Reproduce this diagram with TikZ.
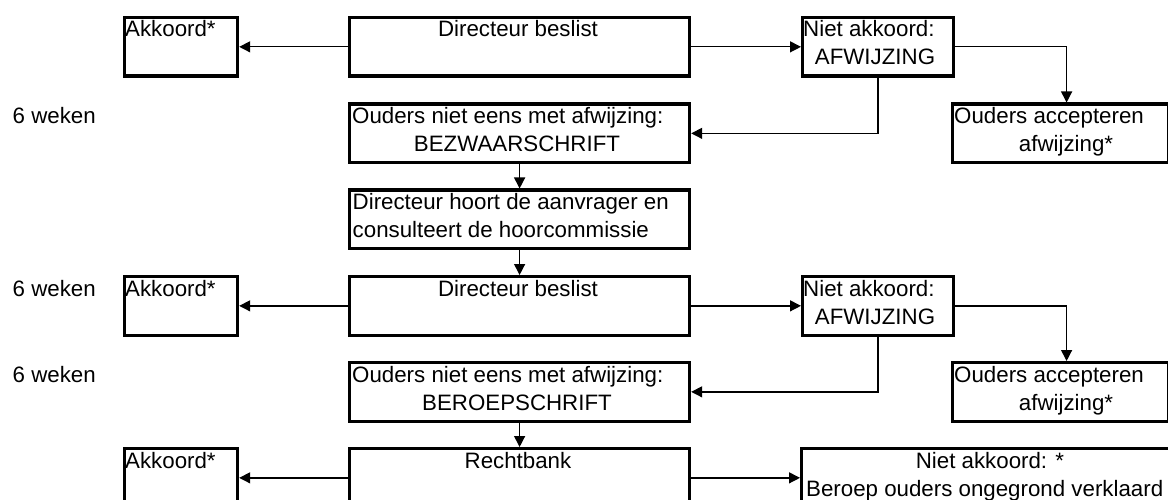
\documentclass[tikz,border=0pt]{standalone}
\usepackage{fontspec}
\setmainfont{Liberation Sans}
\usetikzlibrary{arrows.meta}
\begin{document}
\begin{tikzpicture}[x=1pt,y=-1pt,
  box/.style={draw, line width=3.2pt, rectangle, inner sep=0pt, anchor=north west, minimum height=58.5pt},
  narrow/.style={box, minimum width=113.5pt},
  mid/.style={box, minimum width=340pt},
  nak/.style={box, minimum width=150.5pt},
  acc/.style={box, minimum width=215.5pt},
  txt/.style={inner sep=0pt, font=\fontsize{22.3}{28}\selectfont},
  conn/.style={line width=1.3pt, -{Triangle[length=11pt,width=11pt]}}]
\clip (0,0) rectangle (1168,500);
% boxes
\node[narrow] (ak1) at (122.5,16) {};
\node[mid] (dir1) at (348,16) {};
\node[nak] (na1) at (801,16) {};
\node[acc] (oa1) at (951,102.5) {};
\node[mid] (bez) at (348,102.5) {};
\node[mid] (dh) at (348,188.5) {};
\node[narrow] (ak2) at (122.5,275) {};
\node[mid] (dir2) at (348,275) {};
\node[nak] (na2) at (801,275) {};
\node[acc] (oa2) at (951,361) {};
\node[mid] (ber) at (348,361) {};
\node[narrow] (ak3) at (122.5,447) {};
\node[mid] (rb) at (348,447) {};
\node[box, minimum width=372pt] (na3) at (800,447) {};
% texts
\node[txt, anchor=base west] (w1) at (12.5,123.5) {6 weken};
\node[txt, anchor=base west] (w2) at (12.5,296) {6 weken};
\node[txt, anchor=base west] (w3) at (12.5,382) {6 weken};
\node[txt, anchor=base west] (tak1) at (125,37) {Akkoord*};
\node[txt, anchor=base] (tdir1) at (518,37) {Directeur beslist};
\node[txt, anchor=base west] (tna1a) at (803,37) {Niet akkoord:};
\node[txt, anchor=base] (tna1b) at (875,65) {AFWIJZING};
\node[txt, anchor=base west] (toa1a) at (954,123.5) {Ouders accepteren};
\node[txt, anchor=base] (toa1b) at (1066,151.5) {afwijzing*};
\node[txt, anchor=base west] (tbez1) at (352,123.5) {Ouders niet eens met afwijzing:};
\node[txt, anchor=base] (tbez2) at (517,151.5) {BEZWAARSCHRIFT};
\node[txt, anchor=base west] (tdh1) at (352.5,209.5) {Directeur hoort de aanvrager en};
\node[txt, anchor=base west] (tdh2) at (352.5,237.5) {consulteert de hoorcommissie};
\node[txt, anchor=base west] (tak2) at (125,296) {Akkoord*};
\node[txt, anchor=base] (tdir2) at (518,296) {Directeur beslist};
\node[txt, anchor=base west] (tna2a) at (803,296) {Niet akkoord:};
\node[txt, anchor=base] (tna2b) at (875,324) {AFWIJZING};
\node[txt, anchor=base west] (toa2a) at (954,382) {Ouders accepteren};
\node[txt, anchor=base] (toa2b) at (1066,410) {afwijzing*};
\node[txt, anchor=base west] (tber1) at (352,382) {Ouders niet eens met afwijzing:};
\node[txt, anchor=base] (tber2) at (517,410) {BEROEPSCHRIFT};
\node[txt, anchor=base west] (tak3) at (125,468) {Akkoord*};
\node[txt, anchor=base] (trb) at (518,468) {Rechtbank};
\node[txt, anchor=base] (tna3a) at (990,468) {Niet akkoord: *};
\node[txt, anchor=base west] (tna3b) at (806,496) {Beroep ouders ongegrond verklaard};
% connectors
\draw[conn] (dir1.west) -- (ak1.east);
\draw[conn] (dir1.east) -- (na1.west);
\draw[conn] (na1.east) -| ([xshift=6.25pt]oa1.north);
\draw[conn] (na1.south) |- (bez.east);
\draw[conn] (bez.south) -- (dh.north);
\draw[conn] (dh.south) -- (dir2.north);
\draw[conn] (dir2.west) -- (ak2.east);
\draw[conn] (dir2.east) -- (na2.west);
\draw[conn] (na2.east) -| ([xshift=6.25pt]oa2.north);
\draw[conn] (na2.south) |- (ber.east);
\draw[conn] (ber.south) -- (rb.north);
\draw[conn] (rb.west) -- (ak3.east);
\draw[conn] (rb.east) -- (na3.west);
\end{tikzpicture}
\end{document}
